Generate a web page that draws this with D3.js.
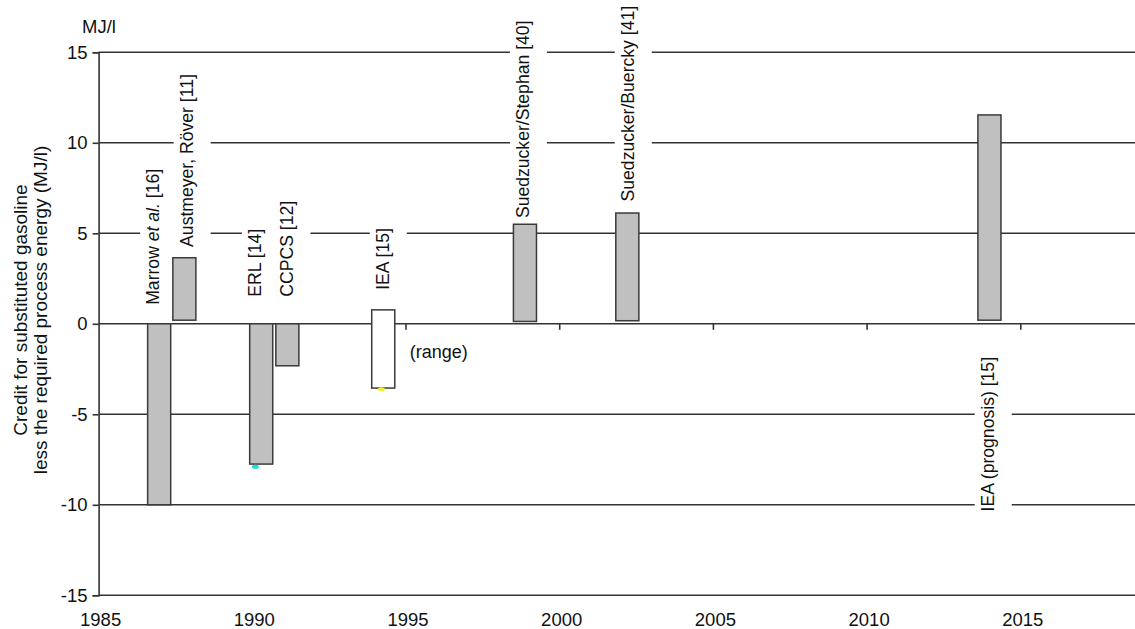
<!DOCTYPE html>
<html>
<head>
<meta charset="utf-8">
<script src="https://cdn.jsdelivr.net/npm/d3@7"></script>
<style>
  body { margin: 0; background: #fff; }
  text { font-family: 'Liberation Sans', Arial, sans-serif; fill: #111; }
</style>
</head>
<body>
<div id="chart"></div>
<script>
// studies and their energy balance (MJ/l)
var studies = ['Marrow et al. [16]', 'Austmeyer, Röver [11]', 'ERL [14]', 'CCPCS [12]',
  'IEA [15]', 'Suedzucker/Stephan [40]', 'Suedzucker/Buercky [41]', 'IEA (prognosis) [15]']
var years = [1986.97, 1987.79, 1990.29, 1991.14, 1994.26, 1998.87, 2002.2, 2013.98]
var lows = [-10, 0.2, -7.75, -2.32, -3.55, 0.13, 0.17, 0.2]
var highs = [0, 3.65, 0, 0, 0.77, 5.5, 6.12, 11.54]
var isRange = [false, false, false, false, true, false, false, false]

// where each study label sits (year of baseline, value where text starts)
var labelYears = [1986.97, 1988.06, 1990.28, 1991.31, 1994.44, 1999.0, 2002.41, 2014.12]
var labelValues = [1.05, 4.25, 1.5, 1.5, 1.88, 5.84, 6.76, -10.37]

// stray markers visible in the figure
var markerYears = [1990.1, 1994.2]
var markerValues = [-7.9, -3.62]
var markerColors = ['#19dede', '#f2ee3a']

var yTicks = [-15, -10, -5, 0, 5, 10, 15]
var xTicks = [1985, 1990, 1995, 2000, 2005, 2010, 2015]

var W = 1135, H = 629

var svg = d3.select('#chart')
  .append('svg')
  .attr('width', W)
  .attr('height', H)

var x = d3.scaleLinear().domain([1985, 2020]).range([98.6, 1174.5])
var y = d3.scaleLinear().domain([-15, 15]).range([595.3, 52.3])

var lineColor = '#333'

/** grid lines */
svg.append('g')
  .selectAll('line')
  .data(yTicks)
  .enter()
  .append('line')
  .attr('x1', x(1985))
  .attr('x2', W)
  .attr('y1', d => y(d))
  .attr('y2', d => y(d))
  .attr('stroke', lineColor)
  .attr('stroke-width', 1.6)

/** y axis */
var yAxis = d3.axisLeft(y)
  .tickValues(yTicks)
  .tickFormat(d => String(d))  // plain hyphen like the original
  .tickSize(6)
  .tickPadding(5)
var gy = svg.append('g')
  .attr('transform', 'translate(' + x(1985) + ',0)')
  .call(yAxis)
gy.select('.domain').attr('stroke', lineColor).attr('stroke-width', 1.6)
gy.selectAll('.tick line').attr('stroke', lineColor).attr('stroke-width', 1.6)
gy.selectAll('.tick text')
  .attr('font-size', '18.5px')
  .attr('font-family', "'Liberation Sans', Arial, sans-serif")
  .attr('fill', '#111')

/** x ticks on the zero line */
svg.append('g')
  .selectAll('line')
  .data(xTicks.slice(1))
  .enter()
  .append('line')
  .attr('x1', d => x(d))
  .attr('x2', d => x(d))
  .attr('y1', y(0))
  .attr('y2', y(0) + 6)
  .attr('stroke', lineColor)
  .attr('stroke-width', 1.6)

/** x labels at the bottom */
svg.append('g')
  .selectAll('text')
  .data(xTicks)
  .enter()
  .append('text')
  .attr('x', d => x(d) + 2)
  .attr('y', 626)
  .attr('text-anchor', 'middle')
  .attr('font-size', '18.5px')
  .text(d => d)

/** study labels with white boxes (under the bars) */
var labels = svg.append('g')
  .selectAll('g')
  .data(studies)
  .enter()
  .append('g')
  .attr('transform', (d, i) => 'translate(' + x(labelYears[i]) + ',' + y(labelValues[i]) + ') rotate(-90)')

labels.each(function(d) {
  var g = d3.select(this)
  var t = g.append('text')
    .attr('font-size', '17.6px')
    .attr('text-anchor', 'start')
  if (d.indexOf('et al.') >= 0) {
    var parts = d.split('et al.')
    t.append('tspan').text(parts[0])
    t.append('tspan').attr('font-style', 'italic').text('et al.')
    t.append('tspan').text(parts[1])
  } else {
    t.text(d)
  }
  var b = t.node().getBBox()
  g.insert('rect', 'text')
    .attr('x', b.x - 3)
    .attr('y', b.y - 3)
    .attr('width', b.width + 6)
    .attr('height', b.height + 17)
    .attr('fill', '#fff')
})

/** bars */
var barW = x(1985.75) - x(1985)
svg.append('g')
  .selectAll('rect')
  .data(studies)
  .enter()
  .append('rect')
  .attr('x', (d, i) => x(years[i]) - barW / 2)
  .attr('y', (d, i) => y(highs[i]))
  .attr('width', barW)
  .attr('height', (d, i) => y(lows[i]) - y(highs[i]))
  .attr('fill', (d, i) => isRange[i] ? '#fff' : '#c0c0c0')
  .attr('stroke', '#3a3a3a')
  .attr('stroke-width', 1.5)

/** markers */
svg.append('g')
  .selectAll('ellipse')
  .data(markerYears)
  .enter()
  .append('ellipse')
  .attr('cx', (d, i) => x(d))
  .attr('cy', (d, i) => y(markerValues[i]))
  .attr('rx', 3.5)
  .attr('ry', 2)
  .attr('fill', (d, i) => markerColors[i])

/** range note */
svg.append('text')
  .attr('x', x(1995.12))
  .attr('y', y(-1.88))
  .attr('font-size', '18px')
  .text('(range)')

/** unit */
svg.append('text')
  .attr('x', 82)
  .attr('y', 33)
  .attr('font-size', '18.5px')
  .text('MJ/l')

/** y title */
var title = svg.append('text')
  .attr('transform', 'translate(26.5,310) rotate(-90)')
  .attr('text-anchor', 'middle')
  .attr('font-size', '19px')
title.append('tspan').attr('x', 0).attr('y', 0).text('Credit for substituted gasoline')
title.append('tspan').attr('x', 0).attr('y', 20.5).text('less the required process energy (MJ/l)')
</script>
</body>
</html>
